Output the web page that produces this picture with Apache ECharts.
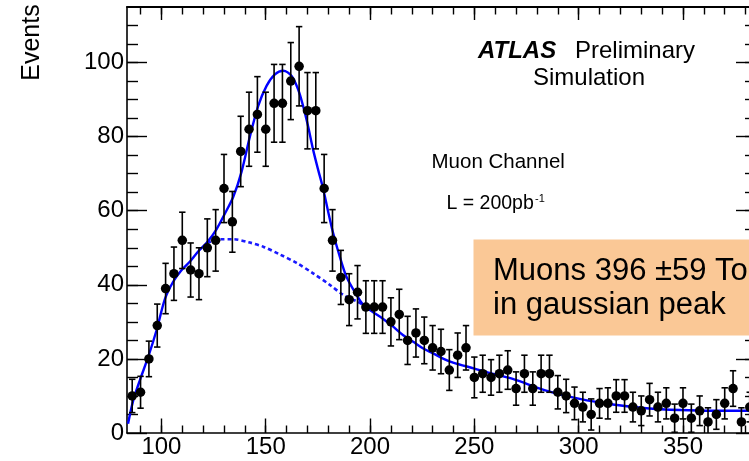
<!DOCTYPE html>
<html>
<head>
<meta charset="utf-8">
<script src="https://cdn.jsdelivr.net/npm/echarts@6/dist/echarts.min.js"></script>
<style>
html,body{margin:0;padding:0;background:#fff;}
#chart{width:749px;height:461px;}
</style>
</head>
<body>
<div id="chart"></div>
<script>
// ---- data ----
const binCenters = [86,90,94,98,102,106,110,114,118,122,126,130,134,138,142,146,150,154,158,162,166,170,174,178,182,186,190,194,198,202,206,210,214,218,222,226,230,234,238,242,246,250,254,258,262,266,270,274,278,282,286,290,294,298,302,306,310,314,318,322,326,330,334,338,342,346,350,354,358,362,366,370,374,378,382];
const events = [10,11,20,29,39,43,52,44,43,50,
                52,66,57,76,82,86,82,89,89,95,
                99,87,87,66,52,42,36,38,34,34,
                34,30,32,25,27,25,23,22,17,21,
                23,15,16,15,16,17,12,16,12,16,
                16,11,10,8,7,5,8,8,10,10,
                7,6,9,7,8,4,8,4,6,3,
                5,8,12,3,7];
const errors = [4.5,4.3,4.8,5.8,6.8,7.2,7.6,7.3,7.0,7.8,
                8.3,9.2,8.2,9.5,10.0,10.2,10.0,10.5,10.5,10.4,
                10.7,10.3,10.3,9.2,8.3,7.3,7.0,7.2,7.1,7.1,
                7.1,6.5,6.8,6.5,6.5,6.3,6.0,6.0,5.5,6.0,
                6.0,5.5,5.0,4.8,5.0,5.2,4.5,5.0,4.5,5.0,
                5.0,4.5,4.5,4.4,4.0,4.2,4.0,4.2,4.4,4.4,
                4.0,4.0,4.4,4.0,4.2,3.8,4.2,3.8,4.0,3.8,
                4.0,4.2,4.8,3.8,4.0];
// total fit (gaussian + background)
const fitX = [84,86.5,89.7,93.7,97.7,101.7,105.7,109.7,113.7,117.6,121.9,126.4,130.4,134.4,138.4,142.4,146.4,150.4,154.4,158.4,162.4,165.5,167.9,170.3,172.7,175.1,177.5,179.9,182.3,185.5,188.7,193.5,196.7,201.5,206.3,211.1,215.9,220.7,225.5,230.2,235,239.8,250,257.4,268.4,284,300.5,316.4,332.4,348.4,364.4,385];
const fitY = [2.5,8.8,14.3,20.6,27.8,36.2,40.9,44.0,46.3,49.0,51.5,55.0,59.2,63.7,70.5,80.0,88.3,93.7,96.8,97.8,96.4,92.8,88.3,82.8,76.5,71.1,66.0,59.8,54.0,47.6,42.2,37.3,34.6,32.6,30.8,28.7,26.4,24.6,22.8,21.5,20.1,19.0,17.4,16.2,14.6,11.5,9.2,7.7,6.7,6.2,6.0,6.0];
// background only
const bkgX = [121.9,126.4,128,134.4,142.4,148.8,156.8,164.8,172.7,180.7,187.1,193.5,197];
const bkgY = [51.3,52.2,52.3,52.3,51.4,50.3,48.2,45.9,43.1,40.0,37.3,35.6,34.5];
// ticks
const xMajorTicks = [100,150,200,250,300,350];
const xMinorTicks = [90,100,110,120,130,140,150,160,170,180,190,200,210,220,230,240,250,260,270,280,290,300,310,320,330,340,350,360,370,380];
const yMajorTicks = [0,20,40,60,80,100];
const yMinorTicks = [5,10,15,20,25,30,35,40,45,50,55,60,65,70,75,80,85,90,95,100,105,110];

// ---- chart ----
const FONT = '"Liberation Sans", Arial, Helvetica, sans-serif';
const chart = echarts.init(document.getElementById('chart'), null, {renderer: 'canvas'});
const X_MIN = 83.5, X_MAX = 385, Y_MIN = 0, Y_MAX = 115;

function xAxisDef(pos, major, showLine, showLabel) {
  return {
    type: 'value', position: pos, min: X_MIN, max: X_MAX,
    axisLine: {show: showLine, onZero: false, lineStyle: {color: '#000', width: pos === 'top' ? 2 : 1.6}},
    axisTick: {show: true, inside: true, length: major ? (pos === 'top' ? 13 : 14.5) : 7.5,
               customValues: major ? xMajorTicks : xMinorTicks,
               lineStyle: {color: '#000', width: 1.4}},
    axisLabel: {show: showLabel, customValues: xMajorTicks, margin: 2,
                fontFamily: FONT, fontSize: 24, color: '#000'},
    splitLine: {show: false}
  };
}
function yAxisDef(pos, major, showLine, showLabel) {
  return {
    type: 'value', position: pos, min: Y_MIN, max: Y_MAX,
    axisLine: {show: showLine, onZero: false, lineStyle: {color: '#000', width: 1.6}},
    axisTick: {show: true, inside: true, length: major ? 20 : 11,
               customValues: major ? yMajorTicks : yMinorTicks,
               lineStyle: {color: '#000', width: 1.4}},
    axisLabel: {show: showLabel, customValues: yMajorTicks, margin: 3,
                fontFamily: FONT, fontSize: 24, color: '#000', padding: [4, 0, 0, 0]},
    splitLine: {show: false}
  };
}

const pts = binCenters.map((x, i) => [x, events[i]]);
const bars = binCenters.map((x, i) => [x, events[i] - errors[i], events[i] + errors[i]]);
const fitData = fitX.map((x, i) => [x, fitY[i]]);
const bkgData = bkgX.map((x, i) => [x, bkgY[i]]);

const option = {
  animation: false,
  backgroundColor: '#fff',
  grid: {left: 127, top: 7, width: 629, height: 426, containLabel: false, outerBoundsMode: 'none'},
  xAxis: [
    xAxisDef('bottom', true, true, true),
    xAxisDef('bottom', false, false, false),
    xAxisDef('top', true, true, false),
    xAxisDef('top', false, false, false)
  ],
  yAxis: [
    yAxisDef('left', true, true, true),
    yAxisDef('left', false, false, false),
    yAxisDef('right', true, true, false),
    yAxisDef('right', false, false, false)
  ],
  series: [
    {
      type: 'line', name: 'background', data: bkgData, xAxisIndex: 0, yAxisIndex: 0,
      showSymbol: false, smooth: 0.3, z: 2,
      lineStyle: {color: '#1a1aff', width: 2.6, type: [4, 3]}
    },
    {
      type: 'line', name: 'fit', data: fitData, xAxisIndex: 0, yAxisIndex: 0,
      showSymbol: false, smooth: 0.3, z: 3,
      lineStyle: {color: '#0000ff', width: 2.4}
    },
    {
      type: 'custom', name: 'errors', data: bars, xAxisIndex: 0, yAxisIndex: 0, z: 4, clip: true,
      renderItem: function (params, api) {
        const x = api.value(0), lo = api.value(1), hi = api.value(2);
        const a = api.coord([x, hi]), b = api.coord([x, lo]);
        const w = 3.2;
        const st = {stroke: '#000', lineWidth: 1.6};
        return {type: 'group', children: [
          {type: 'line', shape: {x1: a[0], y1: a[1], x2: b[0], y2: b[1]}, style: st},
          {type: 'line', shape: {x1: a[0] - w, y1: a[1], x2: a[0] + w, y2: a[1]}, style: st},
          {type: 'line', shape: {x1: b[0] - w, y1: b[1], x2: b[0] + w, y2: b[1]}, style: st}
        ]};
      }
    },
    {
      type: 'scatter', name: 'events', data: pts, xAxisIndex: 0, yAxisIndex: 0, z: 5,
      symbol: 'circle', symbolSize: 9.5, itemStyle: {color: '#000', opacity: 1}
    }
  ],
  graphic: [
    {type: 'text', x: 32, y: 42.5, rotation: Math.PI / 2, z: 10,
     style: {text: 'Events', font: '25px ' + FONT, fill: '#000', align: 'center', verticalAlign: 'middle'}},
    {type: 'text', x: 478, y: 51.6, z: 10,
     style: {text: 'ATLAS', font: 'italic bold 24px ' + FONT, fill: '#000', align: 'left', verticalAlign: 'middle'}},
    {type: 'text', x: 575, y: 51.6, z: 10,
     style: {text: 'Preliminary', font: '24px ' + FONT, fill: '#000', align: 'left', verticalAlign: 'middle'}},
    {type: 'text', x: 533, y: 78.3, z: 10,
     style: {text: 'Simulation', font: '24px ' + FONT, fill: '#000', align: 'left', verticalAlign: 'middle'}},
    {type: 'text', x: 431.5, y: 162.8, z: 10,
     style: {text: 'Muon Channel', font: '20.5px ' + FONT, fill: '#000', align: 'left', verticalAlign: 'middle'}},
    {type: 'text', x: 446.5, y: 203.2, z: 10,
     style: {text: 'L = 200pb', font: '19.5px ' + FONT, fill: '#000', align: 'left', verticalAlign: 'middle'}},
    {type: 'text', x: 535, y: 199, z: 10,
     style: {text: '-1', font: '11px ' + FONT, fill: '#000', align: 'left', verticalAlign: 'middle'}},
    {type: 'rect', shape: {x: 473.5, y: 239.5, width: 300, height: 96}, z: 10,
     style: {fill: '#fac896'}},
    {type: 'text', x: 493, y: 271, z: 11,
     style: {text: 'Muons 396 \u00b159 Top', font: '31px ' + FONT, fill: '#000', align: 'left', verticalAlign: 'middle'}},
    {type: 'text', x: 493, y: 305.8, z: 11,
     style: {text: 'in gaussian peak', font: '31px ' + FONT, fill: '#000', align: 'left', verticalAlign: 'middle'}}
  ]
};
chart.setOption(option);
</script>
</body>
</html>
